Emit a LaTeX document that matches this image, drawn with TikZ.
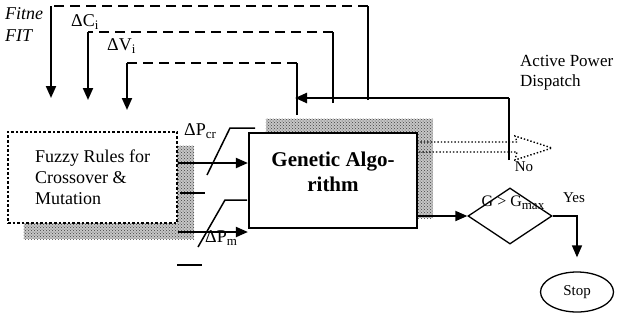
\documentclass[tikz,border=0pt]{standalone}
\usepackage{fontspec}
\setmainfont{Liberation Serif}
\usetikzlibrary{positioning, arrows.meta, shapes.geometric, calc, backgrounds, patterns}

\newcommand{\dsub}[1]{\raisebox{-0.45ex}{\fontsize{13}{13}\selectfont #1}}

\begin{document}
\begin{tikzpicture}[
    x=1pt, y=-1pt,
    fuzzybox/.style={rectangle, draw, dotted, line width=2.6pt, fill=white, minimum width=169pt, minimum height=91pt, align=left, font=\fontsize{18}{21}\selectfont, inner sep=0pt},
    gabox/.style={rectangle, draw, line width=2.2pt, fill=white, minimum width=168pt, minimum height=95pt, align=center, font=\fontsize{21}{25}\selectfont\bfseries, inner sep=3pt},
    decision/.style={diamond, draw, line width=1.3pt, minimum width=84pt, minimum height=56pt, inner sep=0pt},
    terminal/.style={ellipse, draw, line width=1.3pt, minimum width=73pt, minimum height=40pt, font=\fontsize{15}{18}\selectfont},
    lbl/.style={font=\fontsize{18}{21}\selectfont, inner sep=0pt},
    itlbl/.style={font=\fontsize{18}{21}\selectfont\itshape, inner sep=0pt},
    sml/.style={font=\fontsize{15}{18}\selectfont, inner sep=0pt},
    arr/.style={-{Triangle[length=12pt, width=10pt]}, line width=2pt},
    fbline/.style={line width=1.3pt},
    dashline/.style={dash pattern=on 10pt off 6pt, line width=2pt},
    swline/.style={line width=1.5pt},
    shade1/.style={fill=gray!45},
    shade2/.style={pattern=crosshatch dots, pattern color=black!75}
]
    \useasboundingbox (0,0) rectangle (618,322);

    % blocks
    \node[fuzzybox] (fuzzy) at (92.5,177.5) {Fuzzy Rules for\\Crossover \&\\Mutation};
    \node[gabox] (ga) at (333,180.5) {\raisebox{7pt}[\height][\depth]{\begin{tabular}{@{}c@{}}Genetic Algo-\\rithm\end{tabular}}};
    \node[decision] (dec) at (510,216) {};
    \node[sml, font=\fontsize{16}{18}\selectfont] (cond) at (513,203) {G > G\dsub{max}};
    \node[terminal] (stop) at (577,292) {Stop};

    % shadows
    \begin{scope}[on background layer]
        \fill[shade1] ($(fuzzy.south west)+(17,15)$) rectangle ($(fuzzy.north east)+(16,15)$);
        \fill[shade2] ($(fuzzy.south west)+(17,15)$) rectangle ($(fuzzy.north east)+(16,15)$);
        \fill[shade1] ($(ga.south west)+(18,-11)$) rectangle ($(ga.north east)+(15,-13)$);
        \fill[shade2] ($(ga.south west)+(18,-11)$) rectangle ($(ga.north east)+(15,-13)$);
    \end{scope}

    % labels
    \node[itlbl, anchor=west] (fitne) at (5,14) {Fitne};
    \node[itlbl, anchor=west] (fit) at (5,36) {FIT};
    \node[lbl, anchor=west] (dci) at (71,22) {ΔC\dsub{i}};
    \node[lbl, anchor=west] (dvi) at (107,46) {ΔV\dsub{i}};
    \node[lbl, anchor=west] (dpcr) at (184,131) {ΔP\dsub{cr}};
    \node[lbl, anchor=west] (dpm) at (205,238) {ΔP\dsub{m}};
    \node[lbl, font=\fontsize{17}{20}\selectfont, anchor=west, align=left] (apd) at (520,73) {Active Power\\Dispatch};
    \node[sml] (yes) at (574,198) {Yes};
    \node[sml] (no) at (524,167) {No};

    % feedback loops
    \coordinate (fbR) at (509,98);
    \coordinate (fbL) at (295,98);
    \coordinate (fbE) at (509,160);
    \draw[fbline] (fbE) -- (fbR);
    \draw[arr, line width=2.4pt] (fbR) -- (fbL);

    \coordinate (f1a) at (368,100);
    \coordinate (f1b) at (368,6);
    \coordinate (f1c) at (51,6);
    \coordinate (f1d) at (51,98);
    \draw[fbline] (f1a) -- (f1b);
    \draw[dashline] (f1b) -- (f1c);
    \draw[arr] (f1c) -- (f1d);

    \coordinate (f2a) at (333,103);
    \coordinate (f2b) at (333,32);
    \coordinate (f2c) at (88,32);
    \coordinate (f2d) at (88,100);
    \draw[fbline] (f2a) -- (f2b);
    \draw[dashline] (f2b) -- (f2c);
    \draw[arr] (f2c) -- (f2d);

    \coordinate (f3a) at (297,115);
    \coordinate (f3b) at (297,63);
    \coordinate (f3c) at (127,63);
    \coordinate (f3d) at (127,110);
    \draw[fbline, line width=2pt] (f3a) -- (f3b);
    \draw[dashline] (f3b) -- (f3c);
    \draw[arr] (f3c) -- (f3d);

    % fuzzy outputs
    \draw[arr] (fuzzy.east |- 0,163) -- (ga.west |- 0,163);
    \draw[arr] (fuzzy.east |- 0,232) -- (ga.west |- 0,232);
    \draw[swline] (180,193) -- (205,193);
    \draw[swline] (207,175) -- (230,128) -- (255,128);
    \draw[swline] (177,265) -- (202,265);
    \draw[swline] (198,247) -- (225,200) -- (247,200);

    % output arrow
    \draw[dotted, line width=1.4pt] (417,142) -- (517,142) -- (515,136) -- (552,148) -- (515,160) -- (517,152) -- (417,152);

    % decision
    \draw[arr, line width=1.8pt] (ga.east |- dec.west) -- (dec.west);
    \draw[arr, line width=1.5pt, shorten >=14pt] (dec.east) -| (stop.north);
\end{tikzpicture}
\end{document}
